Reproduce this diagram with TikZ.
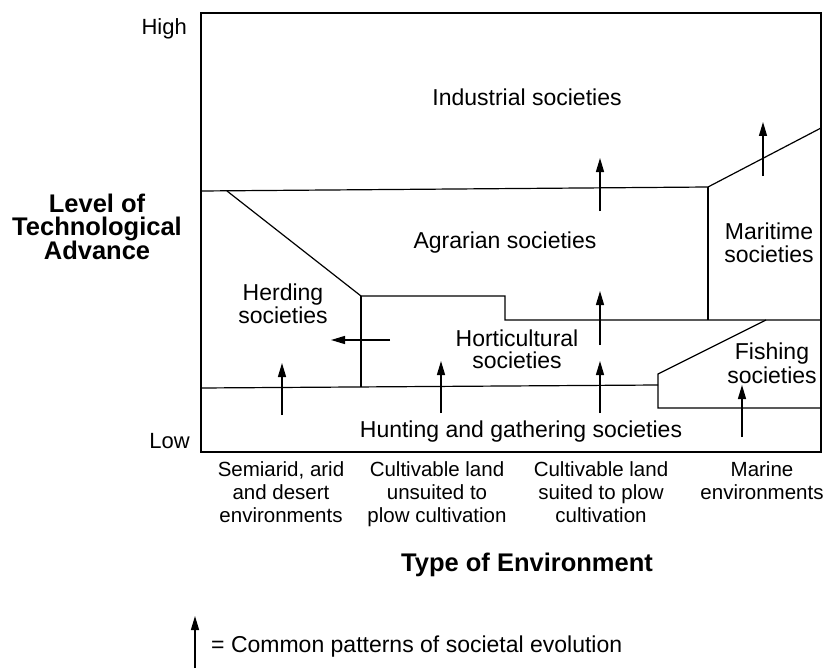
\documentclass[tikz,border=0pt]{standalone}
\usepackage{fontspec}
\setmainfont{Liberation Sans}
\usetikzlibrary{arrows.meta}
\begin{document}
\begin{tikzpicture}[x=1pt,y=-1pt,
  region/.style={line width=1.2pt, line join=miter},
  evo/.style={line width=1.3pt, -{Triangle[length=14pt,width=8pt]}},
  lbl/.style={anchor=base, inner sep=0pt, font=\fontsize{23}{26}\selectfont},
  envlbl/.style={anchor=base, inner sep=0pt, font=\fontsize{20.5}{23}\selectfont},
  axis/.style={anchor=base, inner sep=0pt, font=\fontsize{25.5}{28}\selectfont\bfseries},
  tick/.style={anchor=base east, inner sep=0pt, font=\fontsize{22}{25}\selectfont}]
\useasboundingbox (0,0) rectangle (823,669);
\fill[white] (0,0) rectangle (823,669);

% frame
\draw[region] (201,13) rectangle (821,452);
% industrial / agrarian / maritime boundary
\draw[region] (201,191) -- (708,187) -- (821,128);
\draw[region] (708,187) -- (708,320);
% herding / agrarian / horticultural boundary
\draw[region] (227,191) -- (361,296) -- (505,296) -- (505,320) -- (821,320);
\draw[region] (361,296) -- (361,387);
% hunting and fishing boundary
\draw[region] (201,388) -- (658,385);
\draw[region] (766,320) -- (658,374) -- (658,408) -- (821,408);

% region labels
\node[lbl] (ind) at (527,106) {Industrial societies};
\node[lbl] (agr) at (505,248) {Agrarian societies};
\node[lbl] (mar1) at (769,239) {Maritime};
\node[lbl] (mar2) at (769,262) {societies};
\node[lbl] (her1) at (283,300) {Herding};
\node[lbl] (her2) at (283,323) {societies};
\node[lbl] (hor1) at (517,346) {Horticultural};
\node[lbl] (hor2) at (517,368) {societies};
\node[lbl] (fis1) at (772,359) {Fishing};
\node[lbl] (fis2) at (772,383) {societies};
\node[lbl] (hun) at (521,437) {Hunting and gathering societies};

% evolution arrows
\coordinate (a1s) at (600,211); \coordinate (a1e) at (600,158);
\coordinate (a2s) at (763,176); \coordinate (a2e) at (763,122);
\coordinate (a3s) at (600,345); \coordinate (a3e) at (600,291);
\coordinate (a4s) at (282,415); \coordinate (a4e) at (282,363);
\coordinate (a5s) at (441,413); \coordinate (a5e) at (441,361);
\coordinate (a6s) at (600,413); \coordinate (a6e) at (600,361);
\coordinate (a7s) at (742,437); \coordinate (a7e) at (742,385);
\coordinate (a8s) at (390,340); \coordinate (a8e) at (331,340);
\foreach \a in {1,...,8} \draw[evo] (a\a s) -- (a\a e);

% vertical axis
\node[tick] (high) at (187,35) {High};
\node[tick] (low) at (190,448) {Low};
\node[axis] (ax1) at (97,212) {Level of};
\node[axis] (ax2) at (97,235.5) {Technological};
\node[axis] (ax3) at (97,259) {Advance};

% environment labels
\node[envlbl] (e11) at (281,476) {Semiarid, arid};
\node[envlbl] (e12) at (281,499) {and desert};
\node[envlbl] (e13) at (281,522) {environments};
\node[envlbl] (e21) at (437,476) {Cultivable land};
\node[envlbl] (e22) at (437,499) {unsuited to};
\node[envlbl] (e23) at (437,522) {plow cultivation};
\node[envlbl] (e31) at (601,476) {Cultivable land};
\node[envlbl] (e32) at (601,499) {suited to plow};
\node[envlbl] (e33) at (601,522) {cultivation};
\node[envlbl] (e41) at (762,476) {Marine};
\node[envlbl] (e42) at (762,499) {environments};
\node[axis] (xax) at (527,571) {Type of Environment};

% legend
\coordinate (ls) at (195,668); \coordinate (le) at (195,616);
\draw[evo] (ls) -- (le);
\node[lbl, anchor=base west] (leg) at (211,652) {= Common patterns of societal evolution};
\end{tikzpicture}
\end{document}
